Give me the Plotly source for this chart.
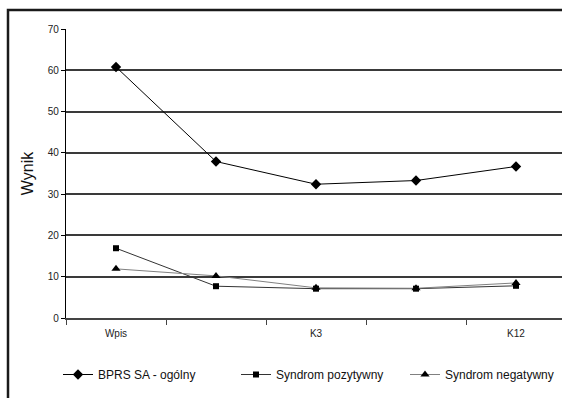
import plotly.graph_objects as go

categories = ["Wpis", " ", "K3", "  ", "K12"]
bprs = [60.8, 37.9, 32.4, 33.3, 36.7]
pozytywny = [16.9, 7.7, 7.1, 7.1, 7.8]
negatywny = [11.9, 10.2, 7.3, 7.2, 8.5]
y_ticks = [0, 10, 20, 30, 40, 50, 60, 70]

FONT = "Liberation Sans, Arial, sans-serif"

fig = go.Figure()
fig.add_trace(go.Scatter(
    x=categories, y=bprs, name="BPRS SA - ogólny", mode="lines+markers",
    line=dict(color="#000000", width=1),
    marker=dict(symbol="diamond", size=8, color="#000000"), legend="legend"))
fig.add_trace(go.Scatter(
    x=categories, y=pozytywny, name="Syndrom pozytywny", mode="lines+markers",
    line=dict(color="#333333", width=1),
    marker=dict(symbol="square", size=6, color="#000000"), legend="legend2"))
fig.add_trace(go.Scatter(
    x=categories, y=negatywny, name="Syndrom negatywny", mode="lines+markers",
    line=dict(color="#808080", width=1),
    marker=dict(symbol="triangle-up", size=8, color="#000000"), legend="legend3"))

L, T, B = 66, 29, 80
W, H = 562, 398
pw, ph = W - L, H - T - B

def px(x):
    return (x - L) / pw

def py(y):
    return (H - B - y) / ph

def leg(x0):
    return dict(orientation="h", x=px(x0), y=py(360), xanchor="left", yanchor="top",
                font=dict(size=12, color="#111111"), itemwidth=30,
                bgcolor="rgba(0,0,0,0)")

fig.update_layout(
    width=W, height=H,
    margin=dict(l=L, r=0, t=T, b=B),
    paper_bgcolor="white", plot_bgcolor="white",
    font=dict(family=FONT, color="#222222"),
    showlegend=True,
    legend=leg(58), legend2=leg(236), legend3=leg(405),
    shapes=[
        dict(type="rect", xref="paper", yref="paper", layer="above",
             x0=px(8), x1=px(W + 20), y0=py(H + 20), y1=py(10),
             fillcolor="rgba(0,0,0,0)",
             line=dict(color="#1a1a1a", width=2.5)),
    ],
)
fig.update_xaxes(
    type="category", range=[-0.5, -0.5 + pw / 100.0],
    showline=True, linecolor="#444444", linewidth=1.5,
    ticks="outside", tickson="boundaries", ticklen=5, tickcolor="#444444",
    showgrid=False, tickfont=dict(size=10, color="#222222"),
    ticklabelstandoff=5,
)
fig.update_yaxes(
    range=[0, 70], tickvals=y_ticks,
    showline=True, linecolor="#000000", linewidth=1.2,
    ticks="outside", ticklen=4, tickcolor="#000000",
    showgrid=True, gridcolor="#3a3a3a", gridwidth=1.5,
    zeroline=False,
    tickfont=dict(size=10, color="#222222"),
    title=dict(text="Wynik", font=dict(size=16, color="#111111"), standoff=10),
)

fig.write_html("out.html", config={"displayModeBar": False})
